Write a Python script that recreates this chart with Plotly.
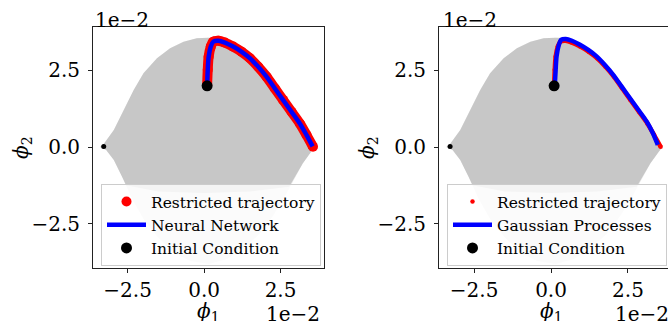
import plotly.graph_objects as go

# ---------------- data (values shown in units of 1e-2) ----------------
# outline of the sampled state cloud (upper edge: left tip -> right tip)
CLOUD_TOP_X = [-3.40, -3.28, -2.95, -2.63, -2.30, -1.98, -1.54, -1.11, -0.67, -0.24, 0.14, 0.50, 0.95, 1.40, 1.85, 2.30, 2.70, 3.05, 3.35, 3.62]
CLOUD_TOP_Y = [0.00, 0.10, 0.56, 1.21, 1.86, 2.41, 2.90, 3.23, 3.44, 3.55, 3.57, 3.56, 3.40, 3.08, 2.62, 2.02, 1.40, 0.80, 0.35, 0.00]
# lower edge: right tip -> left tip
CLOUD_BOT_X = [3.62, 3.50, 3.23, 2.96, 2.65, 2.25, 1.80, 1.30, 0.75, 0.15, -0.45, -1.00, -1.50, -1.95, -2.35, -2.68, -2.95, -3.20, -3.40]
CLOUD_BOT_Y = [0.00, -0.15, -0.53, -1.02, -1.60, -2.25, -2.85, -3.30, -3.66, -3.82, -3.72, -3.45, -2.95, -2.40, -1.70, -0.97, -0.42, -0.10, 0.00]
# lower edge of the denser part of the cloud
DENSE_BOT_X = [3.62, 3.50, 3.23, 2.96, 2.78, 1.50, 0.00, -1.50, -2.55, -2.68, -2.95, -3.20, -3.40]
DENSE_BOT_Y = [0.00, -0.15, -0.53, -1.02, -1.30, -1.45, -1.50, -1.45, -1.25, -0.97, -0.42, -0.10, 0.00]

# restricted trajectory
TRAJ_X = [0.10, 0.12, 0.15, 0.22, 0.30, 0.47, 0.68, 0.95, 1.23, 1.50, 1.77, 2.04, 2.31, 2.58, 2.86, 3.13, 3.35, 3.56]
TRAJ_Y = [2.00, 2.52, 2.95, 3.28, 3.44, 3.47, 3.41, 3.28, 3.11, 2.90, 2.62, 2.30, 1.92, 1.54, 1.15, 0.77, 0.39, 0.01]
# neural network prediction
NN_X = [0.10, 0.12, 0.15, 0.22, 0.30, 0.47, 0.68, 0.95, 1.23, 1.50, 1.77, 2.04, 2.31, 2.58, 2.86, 3.13, 3.35, 3.55]
NN_Y = [2.00, 2.52, 2.95, 3.28, 3.44, 3.47, 3.41, 3.28, 3.11, 2.90, 2.62, 2.30, 1.92, 1.54, 1.15, 0.77, 0.39, 0.02]
# gaussian process prediction
GP_X = [0.12, 0.15, 0.18, 0.25, 0.33, 0.48, 0.68, 0.94, 1.21, 1.48, 1.75, 2.02, 2.29, 2.56, 2.84, 3.11, 3.31, 3.47]
GP_Y = [2.00, 2.52, 2.97, 3.32, 3.50, 3.53, 3.47, 3.34, 3.17, 2.96, 2.68, 2.36, 1.98, 1.60, 1.21, 0.83, 0.45, 0.07]

IC_X = [0.10]
IC_Y = [2.00]
EQ_X = [-3.28]
EQ_Y = [0.02]

TICK_VALS = [-2.5, 0.0, 2.5]
TICK_TEXT = ["\u22122.5", "0.0", "2.5"]
MODEL_NAMES = ["Neural Network", "Gaussian Processes"]

FONT = "DejaVu Serif"
W, H = 668, 321

fig = go.Figure()

panels = [
    dict(xa="x", ya="y", leg="legend", mx=NN_X, my=NN_Y, name=MODEL_NAMES[0], rsize=10),
    dict(xa="x2", ya="y2", leg="legend2", mx=GP_X, my=GP_Y, name=MODEL_NAMES[1], rsize=4.5),
]

for p in panels:
    common = dict(xaxis=p["xa"], yaxis=p["ya"], legend=p["leg"])
    fig.add_trace(go.Scatter(x=CLOUD_TOP_X + CLOUD_BOT_X, y=CLOUD_TOP_Y + CLOUD_BOT_Y,
                             fill="toself", fillcolor="rgba(150,150,150,0.20)",
                             mode="lines", line=dict(width=0), hoverinfo="skip",
                             showlegend=False, **common))
    fig.add_trace(go.Scatter(x=CLOUD_TOP_X + DENSE_BOT_X, y=CLOUD_TOP_Y + DENSE_BOT_Y,
                             fill="toself", fillcolor="rgba(150,150,150,0.42)",
                             mode="lines", line=dict(width=0), hoverinfo="skip",
                             showlegend=False, **common))
    fig.add_trace(go.Scatter(x=EQ_X, y=EQ_Y, mode="markers",
                             marker=dict(color="black", size=5),
                             showlegend=False, **common))
    fig.add_trace(go.Scatter(x=TRAJ_X, y=TRAJ_Y, mode="lines",
                             line=dict(color="rgb(255,0,0)", width=p["rsize"], shape="spline", smoothing=0.8),
                             showlegend=False, **common))
    fig.add_trace(go.Scatter(x=TRAJ_X, y=TRAJ_Y, mode="markers", name="Restricted trajectory",
                             marker=dict(color="rgb(255,0,0)", size=p["rsize"], line=dict(width=0)),
                             **common))
    fig.add_trace(go.Scatter(x=p["mx"], y=p["my"], mode="lines", name=p["name"],
                             line=dict(color="rgb(0,0,255)", width=4.5, shape="spline", smoothing=0.8),
                             **common))
    fig.add_trace(go.Scatter(x=IC_X, y=IC_Y, mode="markers", name="Initial Condition",
                             marker=dict(color="black", size=11, line=dict(width=0)),
                             **common))

axis_common = dict(
    tickvals=TICK_VALS, ticktext=TICK_TEXT, ticks="outside", ticklen=4, tickwidth=1,
    tickcolor="#222", showline=True, linecolor="#222", linewidth=1,
    showgrid=False, zeroline=False, tickfont=dict(family=FONT, size=20, color="black"),
)

legend_common = dict(yanchor="top", xanchor="left", y=1 - 184 / H, itemwidth=39,
                     bgcolor="rgba(255,255,255,0.8)", bordercolor="#cccccc", borderwidth=1,
                     font=dict(family=FONT, size=15.5, color="black"))

fig.update_layout(
    width=W, height=H, margin=dict(l=0, r=0, t=0, b=0),
    plot_bgcolor="white", paper_bgcolor="white",
    font=dict(family=FONT, color="black"),
    xaxis=dict(domain=[93 / W, 324 / W], range=[-3.63, 3.92], mirror=True, anchor="y", **axis_common),
    yaxis=dict(domain=[1 - 268 / H, 1 - 27 / H], range=[-3.95, 3.92], mirror=True, anchor="x",
               ticklabelstandoff=4, **axis_common),
    xaxis2=dict(domain=[439 / W, 1.0], range=[-3.64, 3.80], mirror=True, anchor="y2", **axis_common),
    yaxis2=dict(domain=[1 - 268 / H, 1 - 27 / H], range=[-3.95, 3.92], mirror=False, anchor="x2",
                ticklabelstandoff=4, **axis_common),
    legend=dict(x=101 / W, **legend_common),
    legend2=dict(x=447 / W, **legend_common),
)

ann = []
for (axl, axr, xc, ylx) in [(93, 322, 208, 22), (441, 671, 551, 368)]:
    ann.append(dict(text="1e\u22122", x=axl / W, y=1 - 17 / H, yshift=-3, xref="paper", yref="paper",
                    xanchor="left", yanchor="middle", showarrow=False,
                    font=dict(family=FONT, size=20, color="black")))
    ann.append(dict(text="1e\u22122", x=axr / W, y=1 - 306 / H, yshift=-8, xref="paper", yref="paper",
                    xanchor="right", yanchor="middle", showarrow=False,
                    font=dict(family=FONT, size=20, color="black")))
    ann.append(dict(text="<i>\u03d5</i><sub>1</sub>", x=xc / W, y=1 - 306 / H, yshift=-6, xref="paper", yref="paper",
                    xanchor="center", yanchor="middle", showarrow=False,
                    font=dict(family=FONT, size=20, color="black")))
    ann.append(dict(text="<i>\u03d5</i><sub>2</sub>", x=ylx / W, y=1 - 148 / H, xref="paper", yref="paper",
                    xanchor="center", yanchor="middle", showarrow=False, textangle=-90,
                    font=dict(family=FONT, size=20, color="black")))
fig.update_layout(annotations=ann)

fig.write_html("out.html", config={"displayModeBar": False},
               post_script="document.body.style.margin='0';document.body.style.overflow='hidden';")
